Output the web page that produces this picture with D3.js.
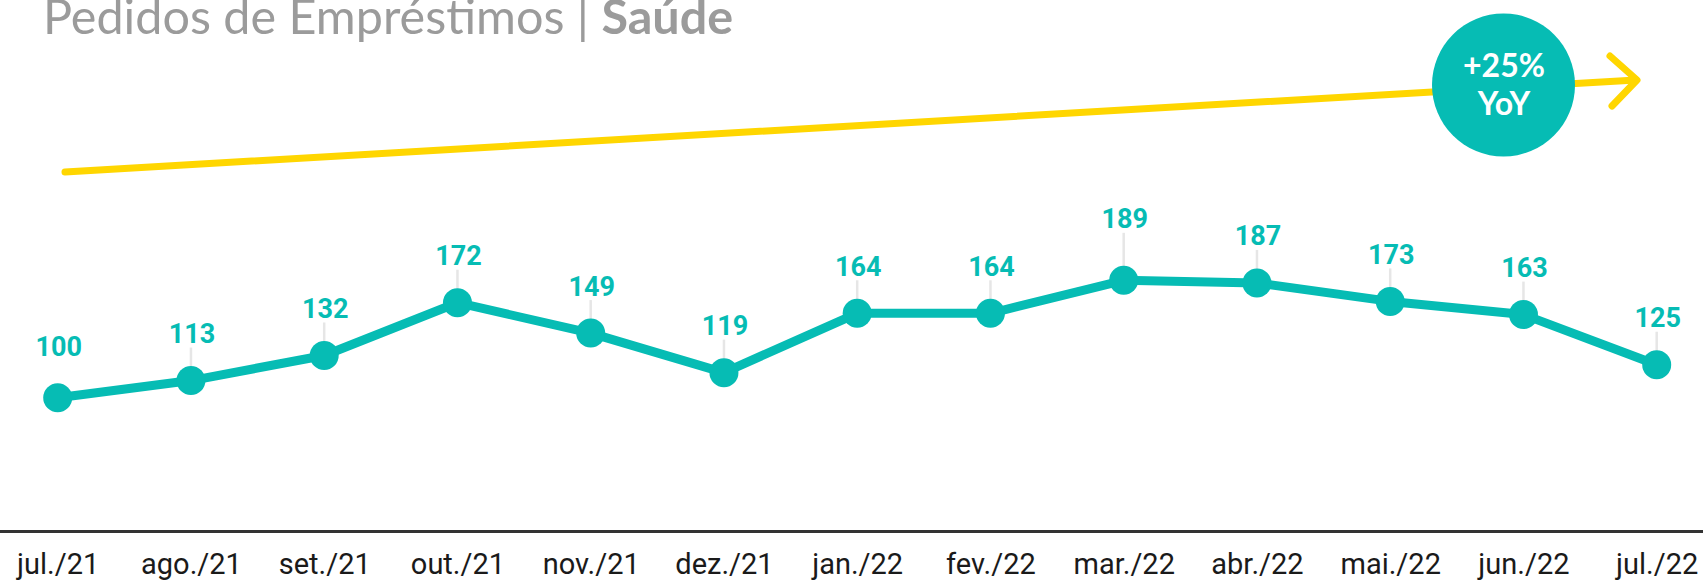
<!DOCTYPE html>
<html>
<head>
<meta charset="utf-8">
<script src="https://cdn.jsdelivr.net/npm/d3@7/dist/d3.min.js"></script>
<style>
  body { margin: 0; background: #fff; }
</style>
</head>
<body>
<div id="chart"></div>
<script>
var w = 1703;
var h = 582;

// *** DATA ***
var months = ["jul./21", "ago./21", "set./21", "out./21", "nov./21", "dez./21",
              "jan./22", "fev./22", "mar./22", "abr./22", "mai./22", "jun./22", "jul./22"];
var pedidos = [100, 113, 132, 172, 149, 119, 164, 164, 189, 187, 173, 163, 125];
var yoyText = ["+25%", "YoY"];
// *************

var teal = "#06bcb4",
    yellow = "#ffd600",
    grey = "#9b9b9b";

// label offset above the point (the peak label sits higher)
function labelOffset(i) {
  if (i === 0) return 41.5;
  if (i === 8) return 52;
  return 37.5;
}

var svg = d3.select("#chart")
    .append("svg")
    .attr("width", w)
    .attr("height", h);

var x = d3.scalePoint().domain(months).range([57.7, 1656.7]),
    y = d3.scaleLinear().domain([0, 100]).range([529.6, 397.7]);

// Title
var title = svg.append("text")
    .attr("x", 43)
    .attr("y", 34)
    .style("font-family", "Lato")
    .style("font-size", "48.5px")
    .attr("fill", grey);
title.append("tspan").text("Pedidos de Empréstimos | ");
title.append("tspan").style("font-weight", "bold").text("Saúde");

// Yellow trend arrow
var arrow = svg.append("g")
    .attr("fill", "none")
    .attr("stroke", yellow)
    .attr("stroke-width", 7)
    .attr("stroke-linecap", "round")
    .attr("stroke-linejoin", "round");
arrow.append("line")
    .attr("x1", 65).attr("y1", 172)
    .attr("x2", 1636).attr("y2", 80);
arrow.append("path")
    .attr("d", "M1610,56 L1637,80 L1612,106");

// YoY badge
svg.append("circle")
    .attr("cx", 1503.5)
    .attr("cy", 85)
    .attr("r", 71.5)
    .attr("fill", teal);
svg.selectAll(".yoy")
    .data(yoyText)
  .enter().append("text")
    .attr("class", "yoy")
    .attr("x", 1504)
    .attr("y", function(d, i) { return i === 0 ? 76.5 : 115; })
    .attr("text-anchor", "middle")
    .style("font-family", "Lato")
    .style("font-weight", "bold")
    .style("font-size", "32px")
    .attr("fill", "#fff")
    .text(function(d) { return d; });

// x-axis
var xAxis = svg.append("g")
    .attr("transform", "translate(0,531.5)")
    .call(d3.axisBottom(x).tickSize(0).tickPadding(42.5));
xAxis.select(".domain")
    .attr("d", "M0,0H" + w)
    .attr("stroke", "#333")
    .attr("stroke-width", 3);
xAxis.selectAll("text")
    .attr("fill", "#1a1a1a")
    .style("font-family", "Roboto")
    .style("font-size", "29px")
    .attr("dy", null);

var data = months.map(function(m, i) { return {m: m, v: pedidos[i], i: i}; });

// leader lines
svg.selectAll(".leader")
    .data(data.filter(function(d) { return d.i > 0; }))
  .enter().append("line")
    .attr("class", "leader")
    .attr("x1", function(d) { return x(d.m); })
    .attr("x2", function(d) { return x(d.m); })
    .attr("y1", function(d) { return y(d.v) - labelOffset(d.i) + 4.5; })
    .attr("y2", function(d) { return y(d.v); })
    .attr("stroke", "#e6e6e6")
    .attr("stroke-width", 2.5);

// the line
svg.append("path")
    .datum(data)
    .attr("fill", "none")
    .attr("stroke", teal)
    .attr("stroke-width", 9)
    .attr("stroke-linejoin", "round")
    .attr("d", d3.line()
      .x(function(d) { return x(d.m); })
      .y(function(d) { return y(d.v); }));

svg.selectAll(".dot")
    .data(data)
  .enter().append("circle")
    .attr("class", "dot")
    .attr("cx", function(d) { return x(d.m); })
    .attr("cy", function(d) { return y(d.v); })
    .attr("r", 14.5)
    .attr("fill", teal);

// value labels
svg.selectAll(".val")
    .data(data)
  .enter().append("text")
    .attr("class", "val")
    .attr("x", function(d) { return x(d.m) + 1; })
    .attr("y", function(d) { return y(d.v) - labelOffset(d.i); })
    .attr("text-anchor", "middle")
    .style("font-family", "Roboto")
    .style("font-weight", "bold")
    .style("font-size", "27px")
    .attr("fill", teal)
    .text(function(d) { return d.v; });
</script>
</body>
</html>
